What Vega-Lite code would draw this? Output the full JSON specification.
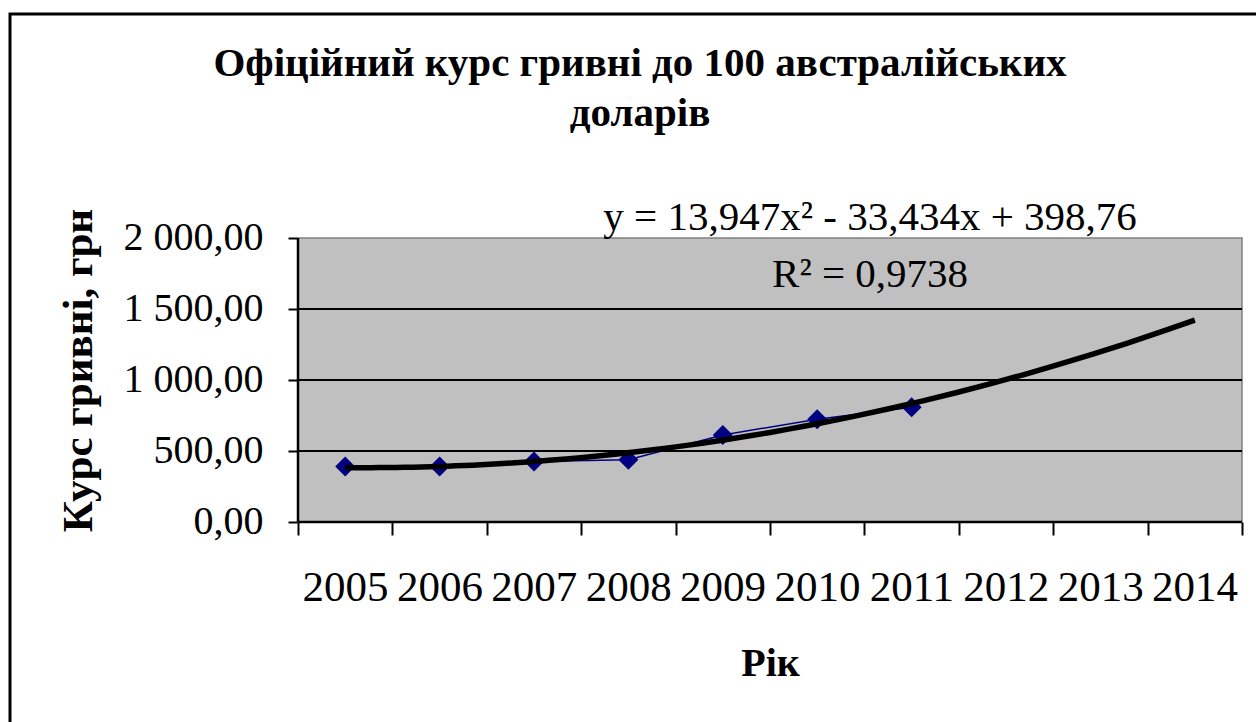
{
  "$schema": "https://vega.github.io/schema/vega-lite/v6.json",
  "autosize": "none",
  "width": 1260,
  "height": 720,
  "padding": {"left": 10, "top": 14, "right": 0, "bottom": 0},
  "background": "white",
  "config": {
    "font": "Liberation Serif",
    "view": {"stroke": "black", "strokeWidth": 3, "fill": "white"},
    "locale": {"number": {"decimal": ",", "thousands": " ", "grouping": [3], "currency": ["", ""]}}
  },
  "title": {
    "text": ["Офіційний курс гривні до 100 австралійських", "доларів"],
    "fontSize": 41,
    "fontWeight": "bold",
    "color": "black",
    "font": "Liberation Serif",
    "lineHeight": 50,
    "anchor": "middle",
    "frame": "group",
    "offset": -153,
    "baseline": "alphabetic"
  },
  "data": {
    "values": [
      {"year": 2005, "value": 391},
      {"year": 2006, "value": 391},
      {"year": 2007, "value": 426},
      {"year": 2008, "value": 438},
      {"year": 2009, "value": 613},
      {"year": 2010, "value": 724},
      {"year": 2011, "value": 808}
    ]
  },
  "layer": [
    {
      "data": {"values": [{}]},
      "mark": {"type": "rect", "fill": "#C0C0C0", "stroke": "#808080", "strokeWidth": 1.5},
      "encoding": {
        "x": {
          "datum": 2004.5, "type": "quantitative",
          "scale": {"domain": [2001.44915, 2014.79661], "nice": false, "zero": false},
          "axis": {
            "orient": "bottom", "offset": -212,
            "values": [2004.5, 2005.5, 2006.5, 2007.5, 2008.5, 2009.5, 2010.5, 2011.5, 2012.5, 2013.5, 2014.5],
            "labelExpr": "datum.value < 2014 ? '' + (datum.value + 0.5) : ''",
            "labelOffset": 47, "domain": false, "grid": false,
            "tickSize": 13, "tickWidth": 2, "tickColor": "black",
            "labelFontSize": 43, "labelColor": "black", "labelPadding": 31,
            "labelOverlap": false, "labelFlush": false, "labelBound": false,
            "title": "Рік", "titleFontSize": 40, "titleFontWeight": "bold", "titleColor": "black",
            "titleX": 760, "titleY": 153, "titleBaseline": "alphabetic", "titleAlign": "center", "titleAngle": 0
          }
        },
        "x2": {"datum": 2014.5},
        "y": {
          "datum": 0, "type": "quantitative",
          "scale": {"domain": [-1492.96, 3577.46], "nice": false, "zero": false},
          "axis": {
            "orient": "left", "offset": -288,
            "values": [0, 500, 1000, 1500, 2000],
            "format": ",.2f", "domain": false, "grid": false,
            "tickSize": 10, "tickWidth": 2, "tickColor": "black",
            "labelFontSize": 40, "labelColor": "black", "labelPadding": 25,
            "labelOverlap": false, "labelFlush": false, "labelBound": false,
            "title": "Курс гривні, грн", "titleFontSize": 43, "titleFontWeight": "bold", "titleColor": "black",
            "titleX": -220, "titleY": 356, "titleAngle": -90, "titleAlign": "center", "titleBaseline": "middle"
          }
        },
        "y2": {"datum": 2000}
      }
    },
    {
      "data": {"values": [{"g": 500}, {"g": 1000}, {"g": 1500}]},
      "mark": {"type": "rule", "color": "black", "strokeWidth": 2},
      "encoding": {
        "y": {"field": "g", "type": "quantitative"},
        "x": {"datum": 2004.5, "type": "quantitative"},
        "x2": {"datum": 2014.5}
      }
    },
    {
      "data": {"values": [{}]},
      "mark": {"type": "rule", "color": "black", "strokeWidth": 2.5},
      "encoding": {
        "x": {"datum": 2004.5, "type": "quantitative"},
        "y": {"datum": 0, "type": "quantitative"},
        "y2": {"datum": 2000}
      }
    },
    {
      "data": {"values": [{}]},
      "mark": {"type": "rule", "color": "black", "strokeWidth": 2.5},
      "encoding": {
        "y": {"datum": 0, "type": "quantitative"},
        "x": {"datum": 2004.5, "type": "quantitative"},
        "x2": {"datum": 2014.5}
      }
    },
    {
      "mark": {"type": "line", "color": "#000080", "strokeWidth": 1.5},
      "encoding": {
        "x": {"field": "year", "type": "quantitative"},
        "y": {"field": "value", "type": "quantitative"}
      }
    },
    {
      "mark": {"type": "point", "shape": "diamond", "filled": true, "color": "#000080", "size": 400, "opacity": 1},
      "encoding": {
        "x": {"field": "year", "type": "quantitative"},
        "y": {"field": "value", "type": "quantitative"}
      }
    },
    {
      "transform": [
        {"regression": "value", "on": "year", "method": "poly", "order": 2, "extent": [2005, 2014]}
      ],
      "mark": {"type": "line", "color": "black", "strokeWidth": 5.5},
      "encoding": {
        "x": {"field": "year", "type": "quantitative"},
        "y": {"field": "value", "type": "quantitative"}
      }
    },
    {
      "data": {"values": [{}]},
      "mark": {"type": "text", "text": "y = 13,947x² - 33,434x + 398,76", "fontSize": 41, "align": "center", "baseline": "alphabetic", "color": "black"},
      "encoding": {
        "x": {"datum": 2010.56, "type": "quantitative"},
        "y": {"datum": 2056, "type": "quantitative"}
      }
    },
    {
      "data": {"values": [{}]},
      "mark": {"type": "text", "text": "R² = 0,9738", "fontSize": 41, "align": "center", "baseline": "alphabetic", "color": "black"},
      "encoding": {
        "x": {"datum": 2010.56, "type": "quantitative"},
        "y": {"datum": 1655, "type": "quantitative"}
      }
    }
  ]
}
